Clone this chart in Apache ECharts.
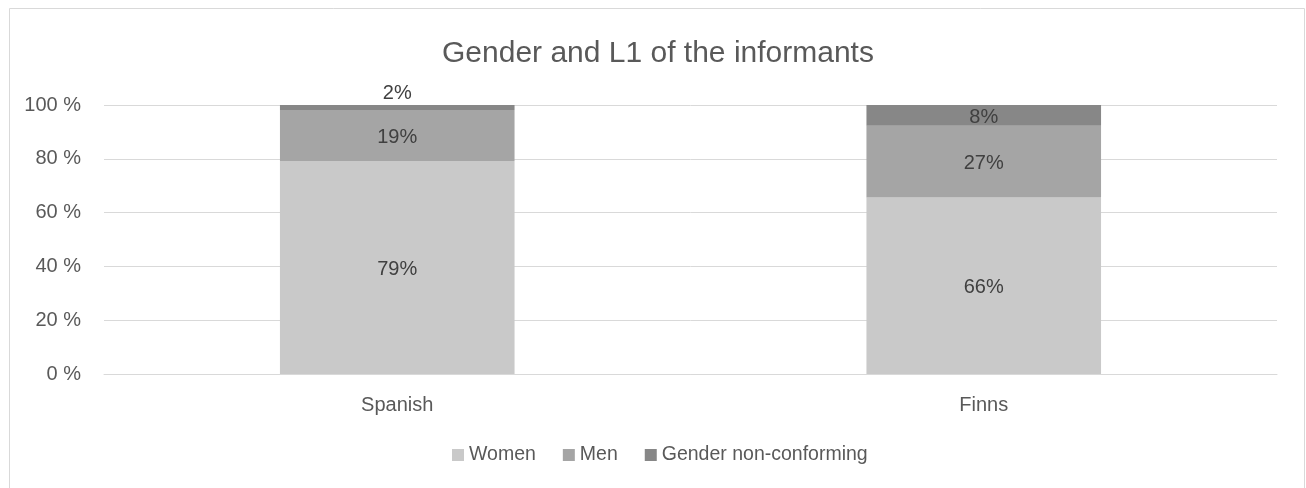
<!DOCTYPE html>
<html>
<head>
<meta charset="utf-8">
<script src="https://cdn.jsdelivr.net/npm/echarts@6/dist/echarts.min.js"></script>
<style>
html,body{margin:0;padding:0;background:#fff;}
#chart{width:1306px;height:488px;}
</style>
</head>
<body>
<div id="chart"></div>
<script>
const categories = ['Spanish', 'Finns'];
const women = [79.2, 65.6];
const men = [18.9, 26.7];
const nonConforming = [1.9, 7.7];
const yTicks = [0, 20, 40, 60, 80, 100];

const FONT = "'Liberation Sans', Arial, sans-serif";
const chart = echarts.init(document.getElementById('chart'), null, {renderer: 'canvas'});

function labelFmt(p) { return Math.round(p.value) + '%'; }

const baseLabel = {show: true, position: 'inside', offset: [0, 2], color: '#404040', fontFamily: FONT, fontSize: 20, formatter: labelFmt};

chart.setOption({
  animation: false,
  backgroundColor: '#fff',
  textStyle: {fontFamily: FONT},
  graphic: [{
    type: 'rect', silent: true, z: -1,
    shape: {x: 9.5, y: 8.5, width: 1295, height: 500},
    style: {fill: 'none', stroke: '#d9d9d9', lineWidth: 1}
  }],
  title: {
    text: 'Gender and L1 of the informants',
    left: 437, top: 34,
    textStyle: {fontFamily: FONT, fontSize: 30, fontWeight: 'normal', color: '#595959'}
  },
  legend: {
    top: 445, left: 452, padding: 0,
    itemWidth: 12, itemHeight: 12, itemGap: 27,
    icon: 'rect',
    textStyle: {fontFamily: FONT, fontSize: 19.5, color: '#595959'},
    data: ['Women', 'Men', 'Gender non-conforming']
  },
  grid: {left: 104, right: 29, top: 105, bottom: 114, containLabel: false},
  xAxis: {
    type: 'category', data: categories,
    axisLine: {show: true, lineStyle: {color: '#d9d9d9', width: 1}},
    axisTick: {show: false},
    axisLabel: {color: '#595959', fontFamily: FONT, fontSize: 20, margin: 21}
  },
  yAxis: {
    type: 'value', min: 0, max: 100, interval: 20,
    axisLine: {show: false}, axisTick: {show: false},
    splitLine: {lineStyle: {color: '#d9d9d9', width: 1}},
    axisLabel: {color: '#595959', fontFamily: FONT, fontSize: 20, margin: 23,
      formatter: v => yTicks.includes(v) ? v + ' %' : ''}
  },
  series: [
    {name: 'Women', type: 'bar', stack: 'a', barWidth: '40%', data: women,
      itemStyle: {color: '#c9c9c9'}, label: baseLabel},
    {name: 'Men', type: 'bar', stack: 'a', data: men,
      itemStyle: {color: '#a5a5a5'}, label: baseLabel},
    {name: 'Gender non-conforming', type: 'bar', stack: 'a',
      data: nonConforming.map((v, i) => i === 0 ? {value: v, label: {position: 'top', distance: 2, offset: [0, 0]}} : v),
      itemStyle: {color: '#878787'}, label: baseLabel}
  ]
});
</script>
</body>
</html>
